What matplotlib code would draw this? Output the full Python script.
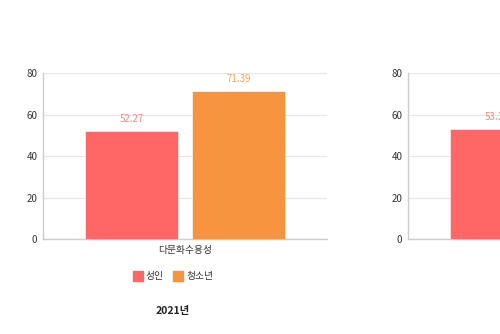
import matplotlib
matplotlib.use("Agg")
import matplotlib.pyplot as plt
from matplotlib.lines import Line2D

plt.rcParams['font.family'] = ['Noto Sans CJK KR', 'DejaVu Sans']

categories = ["다문화수용성"]
series_names = ["성인", "청소년"]
values_2021 = [52.27, 71.39]
values_2022 = [53.31, 71.5]
panel_titles = ["2021년", "2022년"]
yticks = [0, 20, 40, 60, 80]

bar_colors = ["#ff6666", "#f7943f"]
label_colors = ["#ff8585", "#f9a55e"]

fig = plt.figure(figsize=(5, 3.34), dpi=100)

panel_w = 284 / 500
panel_h = 165.7 / 334
panel_b = 95 / 334
lefts = [43 / 500, 408 / 500]


def draw_panel(ax, vals, title, center_x, with_legend):
    width = 0.327
    offsets = [-0.188, 0.188]
    for v, off, c, lc in zip(vals, offsets, bar_colors, label_colors):
        ax.bar(off, v, width=width, color=c, edgecolor="white", linewidth=0.4, zorder=3)
        ax.annotate(f"{v:.2f}", (off, v), xytext=(0, 5), textcoords="offset points",
                    ha="center", va="bottom", color=lc, fontsize=7, zorder=4,
                    annotation_clip=False)
    ax.set_xlim(-0.5, 0.5)
    ax.set_ylim(0, 80)
    ax.set_yticks(yticks)
    ax.set_xticks([0])
    ax.set_xticklabels(categories)
    ax.tick_params(axis="both", length=0, labelsize=7, colors="#333333")
    ax.tick_params(axis="y", pad=4)
    ax.tick_params(axis="x", pad=4)
    ax.grid(axis="y", color="#e6e6e6", linewidth=0.8, zorder=0)
    for s in ["top", "right"]:
        ax.spines[s].set_visible(False)
    for s in ["left", "bottom"]:
        ax.spines[s].set_color("#cccccc")
        ax.spines[s].set_linewidth(1)
    if with_legend:
        handles = [Line2D([], [], marker="s", linestyle="", markersize=7,
                          markerfacecolor=c, markeredgecolor=c) for c in bar_colors]
        fig.legend(handles, series_names, loc="center", bbox_to_anchor=(center_x, (334 - 276) / 334),
                   ncol=2, frameon=False, fontsize=7, handletextpad=0.3, columnspacing=1.0,
                   handlelength=1.0, labelcolor="#333333")
    fig.text(center_x, (334 - 311) / 334, title, ha="center", va="center",
             fontsize=7.5, fontweight="bold", color="#222222")


for i, (left, vals, title) in enumerate(zip(lefts, [values_2021, values_2022], panel_titles)):
    ax = fig.add_axes([left, panel_b, panel_w, panel_h])
    draw_panel(ax, vals, title, left + (173 - 43) / 500, i == 0)

fig.savefig("out.png", dpi=100)
